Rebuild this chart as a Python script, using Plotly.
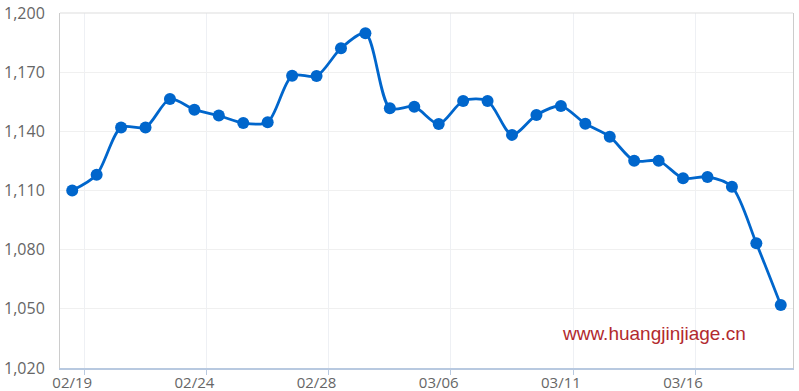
import plotly.graph_objects as go

prices = [1110, 1118, 1142, 1142, 1156.4, 1151, 1148, 1144.2, 1144.6, 1168.2,
          1168, 1182.1, 1189.7, 1151.7, 1152.5, 1143.7, 1155.4, 1155.4, 1138.2, 1148.3,
          1152.8, 1143.9, 1137.3, 1125.1, 1125.1, 1116.2, 1116.9, 1111.9, 1083.2, 1051.9]
tick_labels = ["02/19", "02/24", "02/28", "03/06", "03/11", "03/16"]
label_every = 5

x_idx = list(range(len(prices)))
tick_pos = [i * label_every for i in range(len(tick_labels))]
boundary_pos = [p + 0.5 for p in tick_pos]

fig = go.Figure()
fig.add_trace(go.Scatter(
    x=x_idx, y=prices, mode="lines+markers",
    line=dict(color="#0066CC", width=2.8, shape="spline", smoothing=0.8),
    marker=dict(color="#0066CC", size=12),
    hoverinfo="skip", showlegend=False,
))

fig.update_layout(
    width=799, height=391,
    margin=dict(l=60, r=6, t=13, b=23, autoexpand=False),
    paper_bgcolor="white", plot_bgcolor="white",
    font=dict(family="Open Sans", size=16, color="#666666"),
    xaxis=dict(
        range=[-0.5, len(prices) - 0.5], automargin=False,
        tickmode="array", tickvals=tick_pos, ticktext=tick_labels,
        ticks="", showgrid=False, zeroline=False,
        showline=True, linecolor="#B8C9E0", linewidth=1.5,
        minor=dict(tickmode="array", tickvals=boundary_pos, ticks="outside",
                   ticklen=5, tickcolor="#B8C9E0", tickwidth=1,
                   showgrid=True, gridcolor="#EEF0F4", gridwidth=1),
        tickfont=dict(size=15, color="#666666"),
        ticklabelstandoff=0,
    ),
    yaxis=dict(
        range=[1020, 1200], dtick=30, tick0=1020, tickformat=",d", automargin=False,
        showgrid=True, gridcolor="#F0F0F0", gridwidth=1, zeroline=False,
        showline=True, linecolor="#CCCCCC", linewidth=1, mirror=True,
        ticks="", ticklabelstandoff=11,
        tickfont=dict(size=16, color="#666666"),
    ),
    shapes=[dict(type="line", xref="paper", yref="paper", x0=0, x1=1, y0=1, y1=1,
                 line=dict(color="#DDDDDD", width=1))],
    annotations=[dict(text="www.huangjinjiage.cn", xref="paper", yref="paper",
                      x=0.81, y=0.096, xanchor="center", yanchor="middle",
                      showarrow=False,
                      font=dict(family="Liberation Sans", size=19, color="#B22A2E"))],
)

fig.write_html("out.html")
